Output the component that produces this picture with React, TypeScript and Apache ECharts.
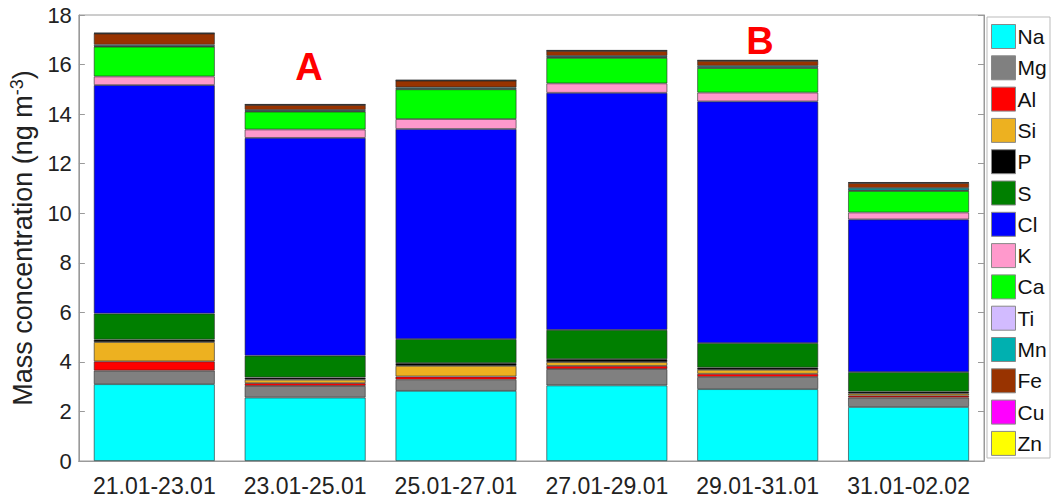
import React, { useEffect, useRef } from "react";
import * as echarts from "echarts";

const categories = ["21.01-23.01", "23.01-25.01", "25.01-27.01", "27.01-29.01", "29.01-31.01", "31.01-02.02"];
const yTicks = { min: 0, max: 18, interval: 2 };

const Na = [3.1, 2.56, 2.83, 3.05, 2.9, 2.18];
const Mg = [0.55, 0.47, 0.45, 0.66, 0.49, 0.38];
const Al = [0.37, 0.11, 0.13, 0.13, 0.13, 0.08];
const Si = [0.78, 0.14, 0.43, 0.15, 0.16, 0.08];
const P = [0.1, 0.09, 0.11, 0.12, 0.09, 0.08];
const S = [1.05, 0.88, 0.97, 1.18, 0.99, 0.79];
const Cl = [9.22, 8.79, 8.48, 9.57, 9.75, 6.16];
const K = [0.35, 0.34, 0.4, 0.38, 0.36, 0.28];
const Ca = [1.2, 0.72, 1.2, 1.03, 0.99, 0.87];
const Ti = [0.02, 0.02, 0.02, 0.02, 0.02, 0.02];
const Mn = [0.06, 0.05, 0.06, 0.06, 0.07, 0.1];
const Fe = [0.45, 0.2, 0.27, 0.2, 0.2, 0.2];
const Cu = [0.01, 0.01, 0.01, 0.01, 0.01, 0.01];
const Zn = [0.02, 0.02, 0.02, 0.02, 0.02, 0.02];

const elements: [string, number[], string][] = [
  ["Na", Na, "#00FFFF"],
  ["Mg", Mg, "#808080"],
  ["Al", Al, "#FF0000"],
  ["Si", Si, "#EDB120"],
  ["P", P, "#000000"],
  ["S", S, "#007F00"],
  ["Cl", Cl, "#0000FF"],
  ["K", K, "#FF99CC"],
  ["Ca", Ca, "#00FF00"],
  ["Ti", Ti, "#D2BBFF"],
  ["Mn", Mn, "#00B0B0"],
  ["Fe", Fe, "#983300"],
  ["Cu", Cu, "#FF00FF"],
  ["Zn", Zn, "#FFFF00"],
];

const FONT = "Liberation Sans, Arial, sans-serif";

export default function App() {
  const ref = useRef<HTMLDivElement>(null);
  useEffect(() => {
    if (!ref.current) return;
    const chart = echarts.init(ref.current, null, { renderer: "svg" });
    const axisGray = "#9A9A9A";
    chart.setOption({
      animation: false,
      textStyle: { fontFamily: FONT },
      grid: { left: 78, right: 69, top: 15, bottom: 36, show: true, borderColor: axisGray, borderWidth: 1 },
      xAxis: [
        {
          type: "category",
          data: categories,
          axisLine: { lineStyle: { color: axisGray } },
          axisTick: { inside: true, alignWithLabel: true, length: 6, lineStyle: { color: axisGray } },
          axisLabel: { color: "#222", fontSize: 23, margin: 13, fontFamily: FONT, interval: 0, hideOverlap: false },
        },
        {
          type: "category",
          data: categories,
          position: "top",
          axisLine: { lineStyle: { color: axisGray } },
          axisTick: { inside: true, alignWithLabel: true, length: 6, lineStyle: { color: axisGray } },
          axisLabel: { show: false },
        },
      ],
      yAxis: [
        {
          type: "value",
          min: yTicks.min,
          max: yTicks.max,
          interval: yTicks.interval,
          splitLine: { show: false },
          axisLine: { show: true, lineStyle: { color: axisGray } },
          axisTick: { show: true, inside: true, length: 6, lineStyle: { color: axisGray } },
          axisLabel: { color: "#222", fontSize: 22, margin: 7, fontFamily: FONT },
          name: "{a|Mass concentration (ng m}{s|-3}{a|)}",
          nameLocation: "middle",
          nameRotate: 90,
          nameGap: 38,
          nameTextStyle: {
            rich: {
              a: { fontSize: 27, color: "#222", fontFamily: FONT, lineHeight: 30 },
              s: { fontSize: 18, color: "#222", fontFamily: FONT, verticalAlign: "top", lineHeight: 30, padding: [0, 0, 10, 0] },
            },
          },
        },
        {
          type: "value",
          position: "right",
          min: yTicks.min,
          max: yTicks.max,
          interval: yTicks.interval,
          splitLine: { show: false },
          axisLine: { show: true, lineStyle: { color: axisGray } },
          axisTick: { show: true, inside: true, length: 6, lineStyle: { color: axisGray } },
          axisLabel: { show: false },
        },
      ],
      legend: {
        orient: "vertical",
        left: 991,
        top: 24,
        padding: 0,
        itemWidth: 24,
        itemHeight: 24,
        itemGap: 6.3,
        icon: "rect",
        selectedMode: false,
        textStyle: { fontSize: 21, color: "#111", fontFamily: FONT, padding: [0, 0, 0, -3] },
        itemStyle: { borderColor: "#888", borderWidth: 1 },
        data: elements.map((e) => e[0]),
      },
      graphic: [
        { type: "rect", shape: { x: 987, y: 17, width: 63, height: 441 }, style: { fill: "none", stroke: "#BBBBBB", lineWidth: 1 }, z: -1 },
        { type: "text", x: 309, y: 67, style: { text: "A", fill: "#FF0000", font: "bold 38px Liberation Sans, Arial, sans-serif", textAlign: "center", textVerticalAlign: "middle" } },
        { type: "text", x: 760, y: 41, style: { text: "B", fill: "#FF0000", font: "bold 38px Liberation Sans, Arial, sans-serif", textAlign: "center", textVerticalAlign: "middle" } },
      ],
      series: elements.map(([name, values, color]) => ({
        name,
        type: "bar",
        stack: "total",
        data: values,
        barWidth: 121,
        itemStyle: { color, borderColor: "rgba(40,40,40,0.75)", borderWidth: 0.8 },
      })),
    });
    return () => chart.dispose();
  }, []);
  return <div ref={ref} style={{ position: "fixed", left: 0, top: 0, width: 1053, height: 497, background: "#fff" }} />;
}
